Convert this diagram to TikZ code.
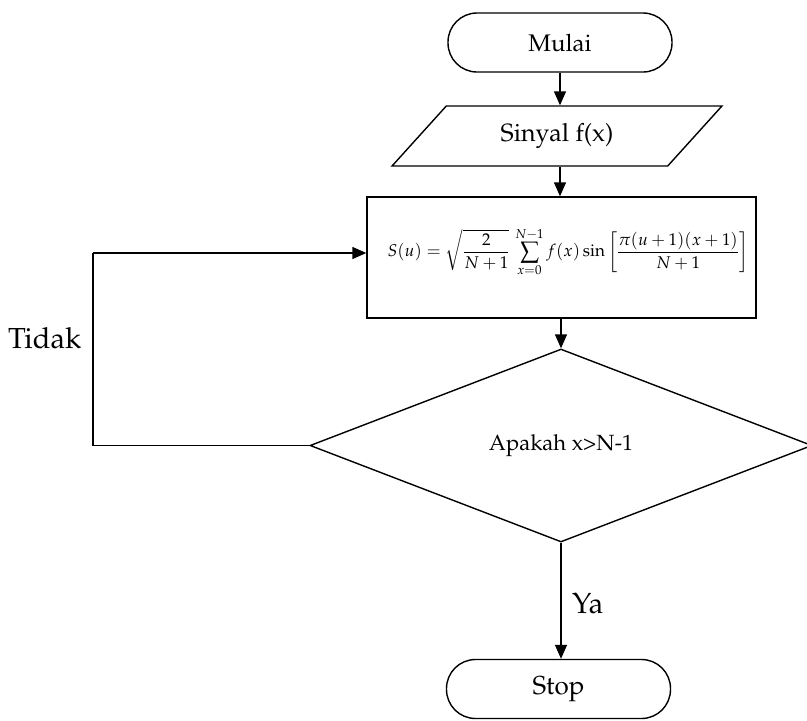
\documentclass[tikz,border=0pt]{standalone}
\usepackage[T1]{fontenc}
\usepackage{mathpazo}
\usetikzlibrary{arrows.meta,shapes.geometric}
\begin{document}
\begin{tikzpicture}[x=1pt,y=-1pt,
  base/.style={draw=black,line width=1.4pt,inner sep=0pt},
  term/.style={base,rectangle,rounded corners=29pt,minimum width=224pt,minimum height=59pt,font=\fontsize{24}{28}\selectfont},
  io/.style={base,trapezium,trapezium left angle=42.3,trapezium right angle=137.7,trapezium stretches=true,minimum width=330pt,minimum height=60pt,font=\fontsize{25}{29}\selectfont},
  proc/.style={base,rectangle,minimum width=389pt,minimum height=121pt},
  dec/.style={base,diamond,aspect=2.6,minimum width=502pt,minimum height=193pt,font=\fontsize{22}{26}\selectfont},
  lbl/.style={font=\fontsize{29}{33}\selectfont,inner sep=0pt},
  arr/.style={line width=1.4pt,-{Triangle[length=14pt,width=12pt]}}]
\useasboundingbox (0,0) rectangle (807,721);
\node[term] (start) at (560,42.5) {Mulai};
\node[io] (sig) at (557,136) {Sinyal f(x)};
\node[proc] (box) at (561.5,257.5) {};
\node[inner sep=0pt] (form) at (568,252) {\fontsize{17}{21}\selectfont$\displaystyle S(u)=\sqrt{\frac{2}{N+1}}\,\sum_{x=0}^{N-1}f(x)\sin\left[\frac{\pi(u+1)(x+1)}{N+1}\right]$};
\node[dec] (cek) at (561,445.5) {Apakah x>N-1};
\node[term,font=\fontsize{26}{30}\selectfont] (stop) at (558.5,689) {Stop};
\coordinate (lp) at (93,253);
\draw[arr] (start.south) -- (start.south |- sig.north);
\draw[arr] (sig.south -| start.south) -- (start.south |- box.north);
\draw[arr] (box.south -| cek.north) -- (cek.north);
\draw[line width=1.4pt] (cek.west) -| (lp);
\draw[arr] (lp) -- (lp -| box.west);
\draw[arr] (cek.south) -- (cek.south |- stop.north);
\node[lbl,anchor=base west] (tidak) at (8,348) {Tidak};
\node[lbl,anchor=base west] (ya) at (572,613) {Ya};
\end{tikzpicture}
\end{document}
